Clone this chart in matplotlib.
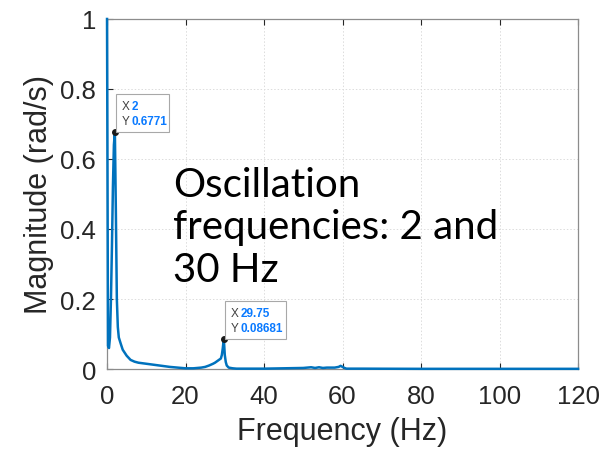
import matplotlib
matplotlib.use("Agg")
import matplotlib.pyplot as plt
from matplotlib.patches import Rectangle
from matplotlib.transforms import IdentityTransform

freq = [0, 0.25, 0.5, 0.75, 1.0, 1.25, 1.5, 1.75, 2.0, 2.25, 2.5, 2.75, 3.0, 3.5, 4, 5, 6, 7, 8, 10,
        12, 14, 16, 18, 20, 22, 24, 25, 26, 27, 27.5, 28, 28.5, 29, 29.25, 29.5, 29.75, 30, 30.25,
        30.5, 31, 32, 33, 35, 40, 45, 50, 52, 53, 54, 55, 56, 58, 59, 59.5, 60, 60.5, 61, 62, 65,
        70, 80, 90, 100, 110, 120]
mag = [1.0, 0.066, 0.06, 0.09, 0.2, 0.35, 0.52, 0.64, 0.6771, 0.45, 0.2, 0.12, 0.09, 0.072, 0.055,
       0.038, 0.026, 0.021, 0.018, 0.015, 0.012, 0.009, 0.006, 0.004, 0.002, 0.002, 0.004, 0.006,
       0.01, 0.015, 0.018, 0.022, 0.026, 0.03, 0.04, 0.06, 0.08681, 0.04, 0.02, 0.01, 0.004, 0.002,
       0.001, 0.001, 0.001, 0.002, 0.003, 0.005, 0.003, 0.005, 0.003, 0.004, 0.004, 0.006, 0.009,
       0.006, 0.003, 0.001, 0.001, 0.001, 0.0008, 0.0005, 0.0005, 0.0005, 0.0005, 0.0005]

xticks = [0, 20, 40, 60, 80, 100, 120]
yticks = [0, 0.2, 0.4, 0.6, 0.8, 1.0]
ytick_labels = ["0", "0.2", "0.4", "0.6", "0.8", "1"]
tip_x = [2, 29.75]
tip_y = [0.6771, 0.08681]
tip_xs = ["2", "29.75"]
tip_ys = ["0.6771", "0.08681"]
tip_w = [53, 61]

plt.rcParams['font.family'] = ['Liberation Sans', 'DejaVu Sans']
fig = plt.figure(figsize=(6.13, 4.52), dpi=100)
ax = fig.add_axes([0.1746, 0.1814, 0.7684, 0.7744])
ax.plot(freq, mag, color="#0072BD", lw=1.8, clip_on=False, zorder=3)
ax.set_xlim(0, 120)
ax.set_ylim(0, 1)
ax.set_xticks(xticks)
ax.set_yticks(yticks)
ax.set_yticklabels(ytick_labels)
ax.tick_params(direction="in", length=4, labelsize=18.5, colors="#262626", top=True, right=False,
               width=0.8)
ax.tick_params(axis="x", pad=10.5)
ax.tick_params(axis="y", pad=8)
for s in ax.spines.values():
    s.set_color("#8c8c8c")
    s.set_linewidth(0.9)
ax.grid(True, linestyle=(0, (1.5, 2)), color="#dcdcdc", lw=0.7)
ax.set_axisbelow(True)
ax.set_xlabel("Frequency (Hz)", fontsize=22, color="#262626", labelpad=6)
ax.set_ylabel("Magnitude (rad/s)", fontsize=22, color="#262626", labelpad=4)

idt = IdentityTransform()
for tx, ty, sx, sy, w in zip(tip_x, tip_y, tip_xs, tip_ys, tip_w):
    px, py = ax.transData.transform((tx, ty))
    left = px + 1
    bottom = py
    fig.patches.append(Rectangle((left, bottom), w, 38, transform=idt, fc="white",
                                 ec="#a8a8a8", lw=0.8, zorder=6))
    fig.text(left + 6, bottom + 26, "X", transform=idt, fontsize=8.5, color="#404040",
             va="center", ha="left", zorder=7)
    fig.text(left + 6, bottom + 11, "Y", transform=idt, fontsize=8.5, color="#404040",
             va="center", ha="left", zorder=7)
    fig.text(left + 16, bottom + 26, sx, transform=idt, fontsize=8.5, color="#0a7aff",
             fontweight="bold", va="center", ha="left", zorder=7)
    fig.text(left + 16, bottom + 11, sy, transform=idt, fontsize=8.5, color="#0a7aff",
             fontweight="bold", va="center", ha="left", zorder=7)
    ax.plot([tx], [ty], marker="o", ms=4, color="#1a1a1a", zorder=8, clip_on=False)

ax.text(0.14, 0.58, "Oscillation\nfrequencies: 2 and\n30 Hz", transform=ax.transAxes,
        fontsize=29, va="top", ha="left", color="black", family=["Lato", "DejaVu Sans"],
        linespacing=1.18)
fig.savefig("out.png", dpi=100)
